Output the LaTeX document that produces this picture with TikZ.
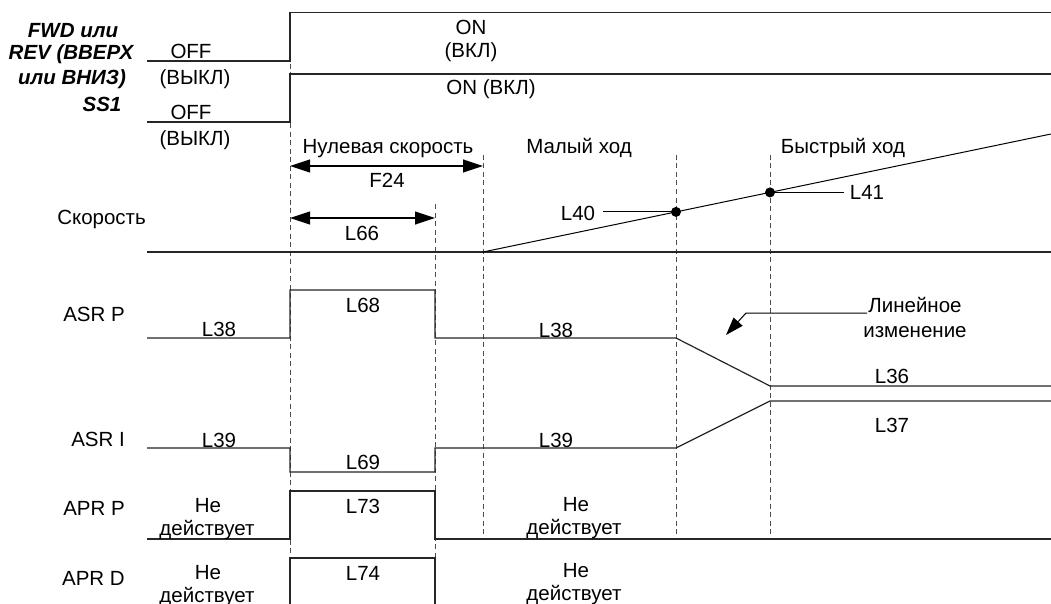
\documentclass[tikz,border=0pt]{standalone}
\usepackage{fontspec}
\setmainfont{Liberation Sans}
\usetikzlibrary{arrows.meta}
\begin{document}
\begin{tikzpicture}[x=1pt,y=-1pt,
  sig/.style={line width=1.2pt, draw=black!85, line join=miter},
  guide/.style={line width=0.9pt, draw=black!70, dash pattern=on 5pt off 3.5pt},
  ramp/.style={line width=1pt, draw=black},
  lbl/.style={anchor=base, inner sep=0pt, font=\fontsize{20.5}{23}\selectfont},
  rowname/.style={lbl, anchor=base east},
  boldlbl/.style={lbl, font=\fontsize{20.5}{23}\selectfont\bfseries\itshape},
  dimarrow/.style={line width=1.2pt, {Triangle[length=20pt,width=13pt]}-{Triangle[length=20pt,width=13pt]}},
  leader/.style={line width=1pt, draw=black},
  blackdot/.style={circle, fill=black, inner sep=0pt, minimum size=10pt},
]
\useasboundingbox (0,0) rectangle (1051,604);
\fill[white] (0,0) rectangle (1051,604);

% guide lines
\draw[guide] (290,12.7) -- (290,604);
\draw[guide] (435,204) -- (435,604);
\draw[guide] (483,155) -- (483,539);
\draw[guide] (676,155) -- (676,539);
\draw[guide] (770,155) -- (770,539);

% FWD / SS1 signals
\draw[sig] (147,61) -- (290,61) -- (290,12.7) -- (1051,12.7);
\draw[sig] (147,122) -- (290,122) -- (290,74) -- (1051,74);

% speed
\draw[sig] (147,252) -- (1051,252);
\coordinate (r0) at (483,252);
\coordinate (r1) at (1051,134);
\draw[ramp] (r0) -- (r1);
\node[blackdot] (d40) at (676,211.9) {};
\node[blackdot] (d41) at (770,192.4) {};
\coordinate (l40end) at (603,211.9);
\coordinate (l41end) at (844,192.4);
\draw[leader] (l40end) -- (d40.center);
\draw[leader] (d41.center) -- (l41end);

% dimension arrows
\coordinate (f24a) at (290,166);
\coordinate (f24b) at (483,166);
\coordinate (l66a) at (290,218);
\coordinate (l66b) at (435,218);
\draw[dimarrow] (f24a) -- (f24b);
\draw[dimarrow] (l66a) -- (l66b);

% ASR P
\draw[sig] (147,338) -- (290,338) -- (290,290) -- (435,290) -- (435,338) -- (676,338) -- (770,386) -- (1051,386);
% ASR I
\draw[sig] (147,448) -- (290,448) -- (290,472) -- (435,472) -- (435,448) -- (676,448) -- (770,401) -- (1051,401);
% APR P
\draw[sig] (147,539) -- (290,539) -- (290,491) -- (435,491) -- (435,539) -- (1051,539);
% APR D
\draw[sig] (290,604) -- (290,558) -- (435,558) -- (435,604);

% ramp annotation arrow
\coordinate (linA) at (867,313);
\coordinate (linB) at (746,313);
\coordinate (linTip) at (726,335);
\draw[leader, -{Triangle[length=18pt,width=12pt]}] (linA) -- (linB) -- (linTip);

% left labels
\node[boldlbl] (t1) at (73,38) {FWD или};
\node[boldlbl] (t2) at (71,60) {REV (ВВЕРХ};
\node[boldlbl] (t3) at (72,85) {или ВНИЗ)};
\node[boldlbl] (t4) at (102,112) {SS1};
\node[lbl] (off1) at (191,59) {OFF};
\node[lbl] (vykl1) at (195,85) {(ВЫКЛ)};
\node[lbl] (off2) at (191,120) {OFF};
\node[lbl] (vykl2) at (195,146) {(ВЫКЛ)};
\node[lbl] (on1) at (471,35) {ON};
\node[lbl] (vkl1) at (471,58) {(ВКЛ)};
\node[lbl] (on2) at (491,95) {ON (ВКЛ)};

% phase labels
\node[lbl] (ph1) at (388,154) {Нулевая скорость};
\node[lbl] (ph2) at (579,154) {Малый ход};
\node[lbl] (ph3) at (843,154) {Быстрый ход};
\node[lbl] (F24) at (387,187) {F24};
\node[lbl] (L66) at (362,240) {L66};
\node[lbl] (L40) at (578,220) {L40};
\node[lbl] (L41) at (867,200) {L41};

% row names
\node[rowname] (nSpeed) at (146,224) {Скорость};
\node[rowname] (nASRP) at (125,321) {ASR P};
\node[rowname] (nASRI) at (125,446) {ASR I};
\node[rowname] (nAPRP) at (125,515) {APR P};
\node[rowname] (nAPRD) at (125,585) {APR D};

% values
\node[lbl] (L38a) at (219,336) {L38};
\node[lbl] (L68) at (363,312) {L68};
\node[lbl] (L38b) at (556,337) {L38};
\node[lbl] (L36) at (892,383) {L36};
\node[lbl] (L37) at (892,432) {L37};
\node[lbl] (L39a) at (219,447) {L39};
\node[lbl] (L69) at (363,469) {L69};
\node[lbl] (L39b) at (556,447) {L39};
\node[lbl] (L73) at (363,513) {L73};
\node[lbl] (L74) at (363,580) {L74};
\node[lbl] (ne1) at (208,512) {Не};
\node[lbl] (de1) at (207,535) {действует};
\node[lbl] (ne2) at (576,511) {Не};
\node[lbl] (de2) at (574,534) {действует};
\node[lbl] (ne3) at (208,579) {Не};
\node[lbl] (de3) at (207,602) {действует};
\node[lbl] (ne4) at (576,577) {Не};
\node[lbl] (de4) at (574,600) {действует};
\node[lbl] (lin1) at (915,312) {Линейное};
\node[lbl] (lin2) at (915,337) {изменение};
\end{tikzpicture}
\end{document}
